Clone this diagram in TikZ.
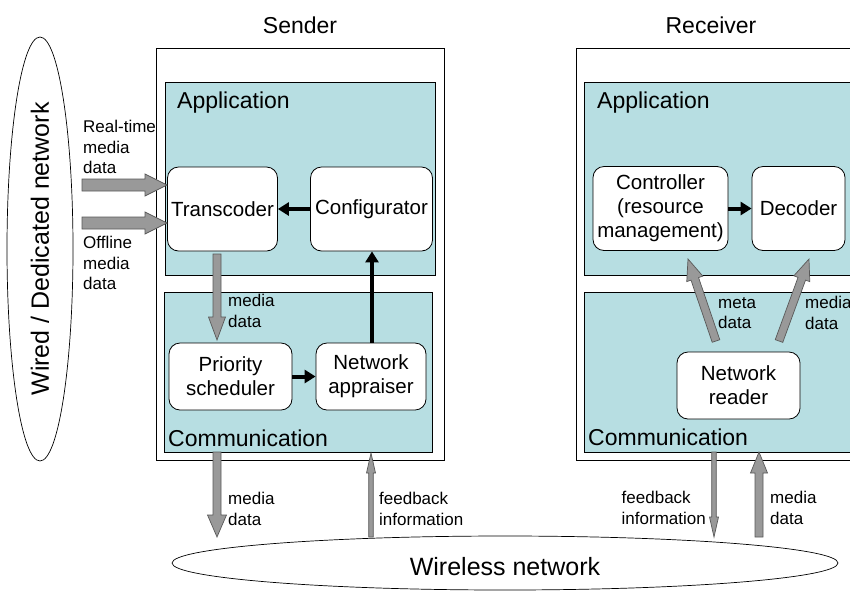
\documentclass[tikz,border=0pt]{standalone}
\usepackage{fontspec}
\setmainfont{Liberation Sans}
\usetikzlibrary{calc,arrows.meta}
\definecolor{panelc}{HTML}{B7DEE2}
\newcommand\blockarrow[5]{% from, to, shaft half, head half, head length
  \coordinate (hb) at ($(#2)!#5!(#1)$);
  \path[garrow] ($(#1)!#3!90:(#2)$) -- ($(hb)!#3!90:(#2)$) -- ($(hb)!#4!90:(#2)$) -- (#2)
    -- ($(hb)!#4!-90:(#2)$) -- ($(hb)!#3!-90:(#2)$) -- ($(#1)!#3!-90:(#2)$) -- cycle;
}
\begin{document}
\begin{tikzpicture}[x=1pt,y=-1pt,
  box/.style={draw=black, line width=0.8pt, rectangle, inner sep=0pt},
  panel/.style={box, fill=panelc},
  comp/.style={draw=black, line width=0.8pt, fill=white, rounded corners=11pt, align=center,
    font=\fontsize{20.5}{24}\selectfont, inner sep=0pt},
  lbl/.style={font=\fontsize{17}{20.5}\selectfont, align=left, inner sep=0pt},
  big/.style={font=\fontsize{23}{27}\selectfont, inner sep=0pt},
  barr/.style={line width=4pt, -{Triangle[length=11pt,width=13pt]}},
  garrow/.style={draw=black!65, fill=black!40, line width=0.7pt, line join=miter}
]
\useasboundingbox (0,0) rectangle (850,590);
\clip (0,0) rectangle (850,590);

% titles
\node[big] (sender) at (300,25) {Sender};
\node[big] (receiver) at (711,25) {Receiver};

% wired network ellipse
\draw[line width=0.7pt] (40,249) ellipse [x radius=33, y radius=212];
\node[font=\fontsize{25}{28}\selectfont, rotate=90, inner sep=0pt] (wired) at (40,249) {Wired / Dedicated network};

% wireless network ellipse
\draw[line width=0.7pt] (505,563) ellipse [x radius=333, y radius=27];
\node[font=\fontsize{25}{29}\selectfont, inner sep=0pt] (wireless) at (505,567) {Wireless network};

% sender boxes
\node[box, minimum width=288pt, minimum height=412pt] (sbox) at (300,254) {};
\node[panel, minimum width=270pt, minimum height=193pt] (sapp) at (300,178.5) {};
\node[panel, minimum width=268pt, minimum height=160pt] (scom) at (298,372) {};
\node[big, anchor=west] (sappl) at (177,103) {Application};
\node[big, anchor=west] (scoml) at (168,438) {Communication};

% receiver boxes
\node[box, minimum width=300pt, minimum height=412pt] (rbox) at (726,254) {};
\node[panel, minimum width=284pt, minimum height=193pt] (rapp) at (726,178.5) {};
\node[panel, minimum width=284pt, minimum height=160pt] (rcom) at (726,372) {};
\node[big, anchor=west] (rappl) at (597,103) {Application};
\node[big, anchor=west] (rcoml) at (588,437) {Communication};

% components
\node[comp, minimum width=110pt, minimum height=84pt] (trans) at (222.5,209) {Transcoder};
\node[comp, minimum width=122pt, minimum height=84pt] (conf) at (371.5,209) {Configurator};
\node[comp, minimum width=123pt, minimum height=67pt] (prio) at (230.5,376.5) {Priority\\scheduler};
\node[comp, minimum width=110pt, minimum height=67pt] (appr) at (371,376.5) {Network\\appraiser};
\node[comp, minimum width=135pt, minimum height=84pt] (ctrl) at (660.5,208.5) {Controller\\(resource\\management)};
\node[comp, minimum width=93pt, minimum height=84pt] (dec) at (798.5,208.5) {Decoder};
\node[comp, minimum width=123pt, minimum height=67pt] (nread) at (738.5,385.5) {Network\\reader};

% black arrows
\draw[barr] (conf.west) -- (trans.east);
\draw[barr] (prio.east) -- (appr.west);
\draw[barr] (ctrl.east) -- (dec.west);
\draw[barr] (appr.north -| 372,0) -- (conf.south -| 372,0);

% input arrows
\coordinate (rt0) at (82,185);
\coordinate (rt1) at (167,185);
\coordinate (of0) at (82,223);
\coordinate (of1) at (167,223);
\blockarrow{rt0}{rt1}{6pt}{11pt}{22pt}
\blockarrow{of0}{of1}{6pt}{11pt}{22pt}
\node[lbl, anchor=west] (rtl) at (83,147) {Real-time\\media\\data};
\node[lbl, anchor=west] (ofl) at (83,263) {Offline\\media\\data};

% transcoder -> scheduler
\coordinate (td0) at (217,254);
\coordinate (td1) at (217,340);
\blockarrow{td0}{td1}{4pt}{8.5pt}{23pt}
\node[lbl, anchor=west] (tdl) at (228,311) {media\\data};

% sender <-> wireless
\coordinate (sd0) at (217,452);
\coordinate (sd1) at (217,537);
\blockarrow{sd0}{sd1}{4pt}{9.5pt}{22pt}
\node[lbl, anchor=west] (sdl) at (228,509) {media\\data};
\coordinate (sf0) at (371,537);
\coordinate (sf1) at (371,453);
\blockarrow{sf0}{sf1}{2.3pt}{4.5pt}{20pt}
\node[lbl, anchor=west] (sfl) at (379,509) {feedback\\information};

% receiver internal
\coordinate (m0) at (716,341);
\coordinate (m1) at (688,259);
\blockarrow{m0}{m1}{4pt}{8.5pt}{21pt}
\coordinate (d0) at (779,341);
\coordinate (d1) at (809,259);
\blockarrow{d0}{d1}{4pt}{8.5pt}{21pt}
\node[lbl, anchor=west] (ml) at (718,313) {meta\\data};
\node[lbl, anchor=west] (dl) at (805,313) {media\\data};

% receiver <-> wireless
\coordinate (rf0) at (714,452);
\coordinate (rf1) at (714,537);
\blockarrow{rf0}{rf1}{2.3pt}{4.5pt}{20pt}
\node[lbl, anchor=east, align=left] (rfl) at (706,508) {feedback\\information};
\coordinate (rm0) at (759,537);
\coordinate (rm1) at (759,452);
\blockarrow{rm0}{rm1}{4pt}{8.5pt}{21pt}
\node[lbl, anchor=west] (rml) at (770,508) {media\\data};
\end{tikzpicture}
\end{document}
